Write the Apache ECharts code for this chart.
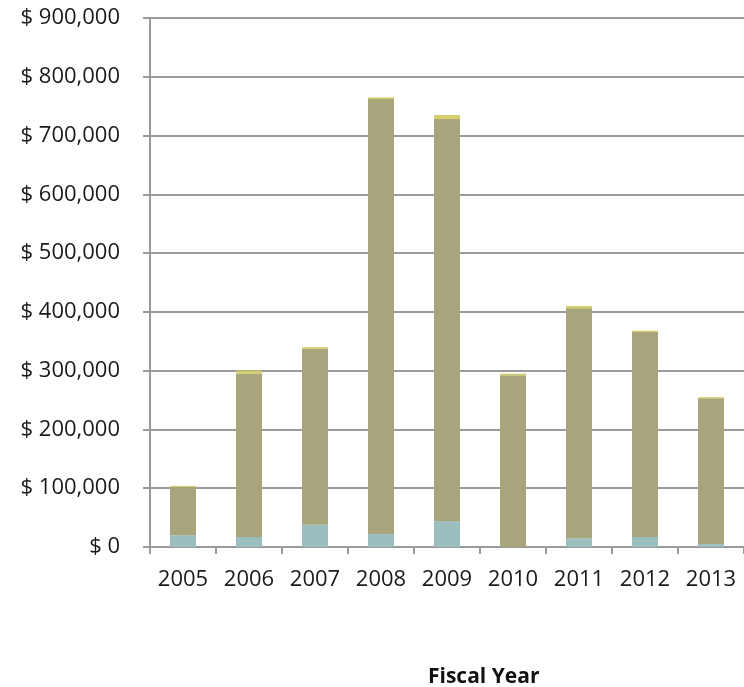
<!DOCTYPE html>
<html>
<head>
<meta charset="utf-8">
<script src="https://cdn.jsdelivr.net/npm/echarts@6/dist/echarts.min.js"></script>
<style>
html,body{margin:0;padding:0;background:#fff;}
#chart{width:744px;height:687px;}
</style>
</head>
<body>
<div id="chart"></div>
<script>
var years = ['2005','2006','2007','2008','2009','2010','2011','2012','2013'];
var tealValues = [20000, 17000, 38000, 22000, 44000, 0, 15000, 17000, 5000];
var oliveValues = [82000, 278000, 299000, 740000, 684000, 292000, 391000, 349000, 248000];
var yellowValues = [2000, 5000, 3000, 3000, 7000, 3000, 4000, 2000, 2000];
var yTicks = [0, 100000, 200000, 300000, 400000, 500000, 600000, 700000, 800000, 900000];

var FONT = '"Open Sans", "Noto Sans", sans-serif';
function fmt(v){
  return '$ ' + String(v).replace(/\B(?=(\d{3})+(?!\d))/g, ',');
}
var chart = echarts.init(document.getElementById('chart'), null, {renderer:'canvas'});
var barStyle = function(c){ return {color:c, borderWidth:0}; };
chart.setOption({
  animation:false,
  backgroundColor:'#ffffff',
  grid:{left:150, top:18, width:597, height:529, containLabel:false},
  xAxis:{
    type:'category',
    data:years,
    boundaryGap:true,
    axisLine:{lineStyle:{color:'#9a9a9a', width:2}},
    axisTick:{show:true, length:7, inside:false, lineStyle:{color:'#9a9a9a', width:2}},
    axisLabel:{color:'#1a1a1a', fontFamily:FONT, fontSize:22, margin:22}
  },
  yAxis:{
    type:'value',
    min:yTicks[0],
    max:yTicks[yTicks.length-1],
    interval:100000,
    axisLine:{show:true, lineStyle:{color:'#9a9a9a', width:2}},
    axisTick:{show:true, length:7, lineStyle:{color:'#9a9a9a', width:2}},
    splitLine:{show:true, lineStyle:{color:'#9a9a9a', width:2}},
    axisLabel:{color:'#1a1a1a', fontFamily:FONT, fontSize:22, margin:30, formatter:fmt}
  },
  series:[
    {type:'bar', stack:'t', data:tealValues, barWidth:26, itemStyle:barStyle('#9bbebe')},
    {type:'bar', stack:'t', data:oliveValues, barWidth:26, itemStyle:barStyle('#a8a47c')},
    {type:'bar', stack:'t', data:yellowValues, barWidth:26, itemStyle:barStyle('#d4ce6c')}
  ],
  graphic:[
    {type:'text', left:428, top:667, style:{text:'Fiscal Year', font:'bold 21px "Open Sans", "Noto Sans", sans-serif', fill:'#111'}}
  ]
});
</script>
</body>
</html>
